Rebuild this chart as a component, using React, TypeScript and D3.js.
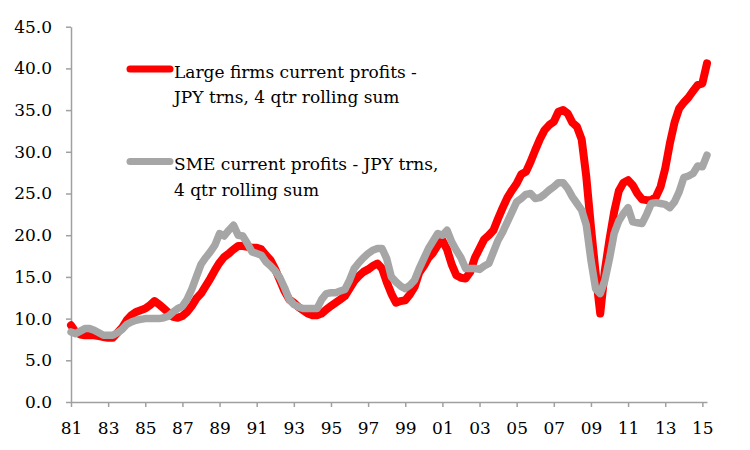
import React, { useRef, useEffect } from "react";
import * as d3 from "d3";

// quarterly data, 1981Q1 .. 2015Q2
const startYear = 1981;

const largeFirms = [
  9.2, 8.4, 8.1, 8.0,
  8.0, 8.0, 7.9, 7.8,
  7.7, 7.7, 8.3, 8.9,
  9.8, 10.4, 10.8, 11.0,
  11.2, 11.6, 12.1, 11.7,
  11.2, 10.7, 10.2, 10.1,
  10.3, 10.8, 11.5, 12.4,
  13.0, 13.9, 14.8, 15.8,
  16.7, 17.4, 17.8, 18.3,
  18.7, 18.7, 18.6, 18.5,
  18.5, 18.3, 17.6, 17.0,
  15.9, 14.6, 13.3, 12.3,
  11.9, 11.4, 11.0, 10.6,
  10.4, 10.4, 10.6, 11.1,
  11.5, 11.9, 12.3, 12.7,
  13.6, 14.5, 15.1, 15.6,
  15.9, 16.3, 16.6, 16.0,
  14.4, 13.0, 11.9, 12.1,
  12.2, 12.9, 13.8, 15.5,
  16.3, 17.3, 17.9, 18.8,
  19.4, 18.3, 16.5, 15.2,
  14.9, 14.8, 15.6, 17.3,
  18.4, 19.5, 20.0, 20.6,
  22.0, 23.3, 24.5, 25.4,
  26.2, 27.3, 27.6, 28.8,
  30.2, 31.5, 32.6, 33.2,
  33.6, 34.8, 35.0, 34.6,
  33.5, 33.0, 31.5, 27.0,
  21.0, 15.5, 10.6, 15.8,
  19.5, 22.8, 25.3, 26.3,
  26.6, 26.0, 25.0, 24.3,
  24.2, 24.2, 24.6, 25.8,
  28.0, 31.0, 33.5, 35.2,
  35.9, 36.5, 37.3, 38.0,
  38.2, 40.6,
];

const smeFirms = [
  8.4, 8.2, 8.5, 8.8,
  8.8, 8.6, 8.3, 8.0,
  8.0, 8.0, 8.3, 8.7,
  9.3, 9.6, 9.8, 9.9,
  10.0, 10.0, 10.0, 10.0,
  10.1, 10.3, 10.8, 11.2,
  11.5, 12.3, 13.5, 15.0,
  16.5, 17.3, 18.0, 18.8,
  20.2, 19.9, 20.6, 21.2,
  20.0, 19.9, 19.0, 18.0,
  17.8, 17.6, 16.8, 16.3,
  15.7, 14.9, 13.7, 12.3,
  11.7, 11.4, 11.2, 11.2,
  11.2, 11.2, 12.3, 13.0,
  13.1, 13.1, 13.3, 13.5,
  14.6, 16.0, 16.7, 17.3,
  17.8, 18.2, 18.4, 18.4,
  17.2, 15.0, 14.4, 13.9,
  13.6, 14.0, 14.6, 16.0,
  17.2, 18.4, 19.3, 20.2,
  20.0, 20.6, 19.2, 18.2,
  17.3, 16.0, 16.0, 16.0,
  15.9, 16.3, 16.6, 18.0,
  19.4, 20.4, 21.6, 22.8,
  24.0, 24.4, 24.9, 25.0,
  24.4, 24.5, 24.9, 25.4,
  25.8, 26.3, 26.3, 25.6,
  24.6, 23.8, 23.0, 21.2,
  17.0, 13.6, 13.0, 14.6,
  17.2, 20.2, 21.7, 22.6,
  23.3, 21.6, 21.5, 21.4,
  22.5, 23.8, 23.9, 23.8,
  23.7, 23.3, 24.0, 25.2,
  26.9, 27.1, 27.4, 28.3,
  28.2, 29.6,
];

const tickYears = d3.range(1981, 2016, 2);
const yTicks = [0, 5, 10, 15, 20, 25, 30, 35, 40, 45];

const seriesInfo = [
  { name: "Large firms current profits -", name2: "JPY trns, 4 qtr rolling sum", values: largeFirms, color: "#ff0000", width: 8 },
  { name: "SME current profits - JPY trns,", name2: "4 qtr rolling sum", values: smeFirms, color: "#a6a6a6", width: 7.5 },
];

const W = 750;
const H = 450;
const FONT = "'DejaVu Serif', serif";

export default function App() {
  const svgRef = useRef<SVGSVGElement>(null);

  useEffect(() => {
    const svg = d3.select(svgRef.current);
    svg.selectAll("*").remove();

    const lastT = startYear + (largeFirms.length - 1) / 4;
    const x = d3.scaleLinear().domain([startYear, lastT]).range([71, 707]);
    const y = d3.scaleLinear().domain([0, 45]).range([402, 26.7]);

    // y axis
    const yAxis = svg
      .append("g")
      .attr("transform", "translate(71,0)")
      .call(
        d3.axisLeft(y)
          .tickValues(yTicks)
          .tickSize(5)
          .tickSizeOuter(0)
          .tickPadding(14)
          .tickFormat((d) => (d as number).toFixed(1))
      );

    // x axis
    const xAxis = svg
      .append("g")
      .attr("transform", `translate(0,${y(0)})`)
      .call(
        d3.axisBottom(x)
          .tickValues(tickYears)
          .tickSize(5)
          .tickSizeOuter(0)
          .tickPadding(15)
          .tickFormat((d) => String((d as number) % 100).padStart(2, "0"))
      );

    [yAxis, xAxis].forEach((ax) => {
      ax.selectAll("path, line").attr("stroke", "#a0a0a0").attr("stroke-width", 1.5);
      ax.selectAll("text")
        .attr("font-family", FONT)
        .attr("font-size", 17)
        .attr("fill", "#000");
    });

    const line = d3
      .line<number>()
      .x((_, i) => x(startYear + i / 4))
      .y((d) => y(d));

    seriesInfo.forEach((s) => {
      svg
        .append("path")
        .datum(s.values)
        .attr("d", line)
        .attr("fill", "none")
        .attr("stroke", s.color)
        .attr("stroke-width", s.width)
        .attr("stroke-linejoin", "round")
        .attr("stroke-linecap", "round");
    });

    // legend
    const legendY = [69, 161.5];
    seriesInfo.forEach((s, i) => {
      const g = svg.append("g");
      g.append("line")
        .attr("x1", 130)
        .attr("x2", 170)
        .attr("y1", legendY[i])
        .attr("y2", legendY[i])
        .attr("stroke", s.color)
        .attr("stroke-width", 7)
        .attr("stroke-linecap", "round");
      g.append("text")
        .attr("x", 174)
        .attr("y", legendY[i] + 8.5)
        .attr("font-family", FONT)
        .attr("font-size", 17)
        .text(s.name);
      g.append("text")
        .attr("x", 174)
        .attr("y", legendY[i] + 34)
        .attr("font-family", FONT)
        .attr("font-size", 17)
        .text(s.name2);
    });
  }, []);

  return (
    <svg
      ref={svgRef}
      width={W}
      height={H}
      style={{ position: "absolute", left: 0, top: 0, background: "#fff" }}
    />
  );
}
